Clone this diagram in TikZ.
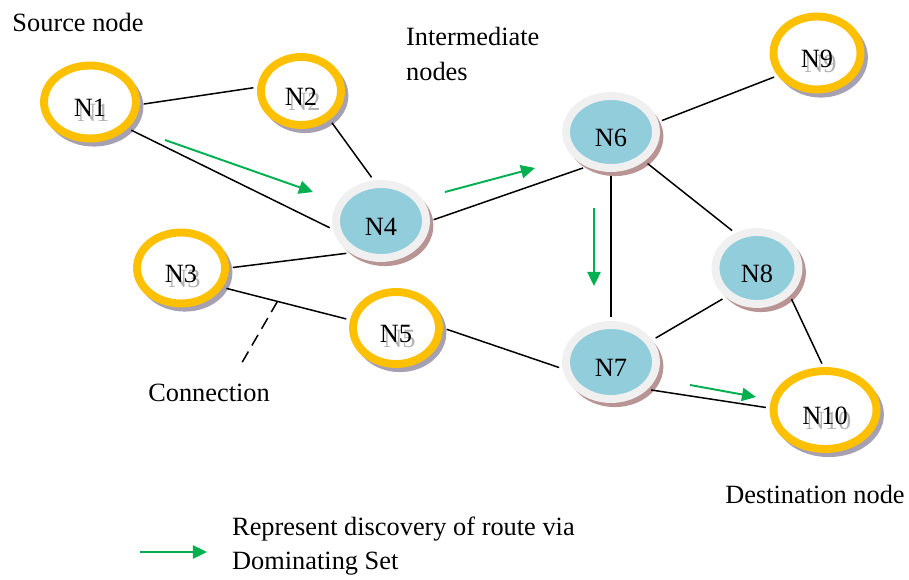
\documentclass[tikz,border=0pt]{standalone}
\usepackage{fontspec}
\setmainfont{Liberation Serif}
\usetikzlibrary{arrows.meta,shapes.geometric,positioning}
\definecolor{ringgold}{RGB}{255,192,0}
\definecolor{shadegrey}{RGB}{165,160,178}
\definecolor{dsblue}{RGB}{146,205,220}
\definecolor{ringpale}{RGB}{240,240,240}
\definecolor{shaderose}{RGB}{185,148,148}
\definecolor{routegreen}{RGB}{0,176,80}
% etichetta con ombra grigia per i nodi semplici
\newcommand{\ghostlbl}[1]{\makebox[0pt][l]{\hspace{2pt}\raisebox{-3pt}{\color{gray!60}#1}}#1}

\begin{document}
\begin{tikzpicture}[x=0.02cm, y=-0.02cm,
  font=\fontsize{15}{19.5}\selectfont,
  plain/.style={ellipse, inner sep=0pt, text height=16.6pt, text depth=0pt, line width=4.5pt, draw=ringgold, fill=white,
    preaction={draw=shadegrey, line width=4pt, transform canvas={shift={(2.2pt,-2.6pt)}}}},
  dom/.style={ellipse, inner sep=0pt, text height=16.6pt, text depth=0pt, line width=4.5pt, draw=ringpale, fill=dsblue,
    preaction={draw=shaderose, line width=4pt, transform canvas={shift={(2.2pt,-2.6pt)}}}},
  link/.style={line width=0.85pt, shorten <=2.2pt, shorten >=2.2pt},
  route/.style={routegreen, line width=1.1pt, -{Triangle[length=8pt,width=7.5pt]}}]
\useasboundingbox (0,0) rectangle (909,580);
% nodi semplici (anello arancio)
\node[plain, minimum width=1.84cm, minimum height=1.46cm] (N1) at (90,102) {\ghostlbl{N1}};
\node[plain, minimum width=1.60cm, minimum height=1.36cm] (N2) at (301,91) {\ghostlbl{N2}};
\node[plain, minimum width=1.76cm, minimum height=1.42cm] (N3) at (181,268) {\ghostlbl{N3}};
\node[plain, minimum width=1.72cm, minimum height=1.44cm] (N5) at (396,328) {\ghostlbl{N5}};
\node[plain, minimum width=1.74cm, minimum height=1.46cm] (N9) at (817,53) {\ghostlbl{N9}};
\node[plain, minimum width=2.06cm, minimum height=1.56cm] (N10) at (825,410) {\ghostlbl{N10}};
% nodi del dominating set
\node[dom, minimum width=1.80cm, minimum height=1.48cm] (N4) at (381,221) {N4};
\node[dom, minimum width=1.80cm, minimum height=1.44cm] (N6) at (611,132) {N6};
\node[dom, minimum width=1.80cm, minimum height=1.48cm] (N7) at (611,362) {N7};
\node[dom, minimum width=1.66cm, minimum height=1.44cm] (N8) at (757,268) {N8};
% collegamenti
\draw[link] (N1.-35) -- (N4.190);
\draw[link] (N1.-3) -- (N2.175);
\draw[link] (N2.-45) -- (N4.100);
\draw[link] (N3.east) -- (N4.226);
\draw[link] (N3.-25) -- (N5.170) coordinate[pos=0.43] (cpt);
\draw[link] (N4.east) -- (N6.235);
\draw[link] (N5.east) -- (N7.188);
\draw[link] (N6.south) -- (N7.north);
\draw[link] (N6.12) -- (N9.210);
\draw[link] (N6.-41) -- (N8.122);
\draw[link] (N7.28) -- (N8.223);
\draw[link] (N7.-37) -- (N10.178);
\draw[link] (N8.-40) -- (N10.92);
% linea di richiamo
\coordinate (cend) at (240,366);
\draw[line width=0.85pt, dash pattern=on 7pt off 4pt] (cpt) -- (cend);
% percorso trovato
\foreach \sx/\sy/\ex/\ey in {165/140/313/192, 445/192/535/168, 594/208/594/286, 690/385/756/397}{
  \draw[route] (\sx,\sy) -- (\ex,\ey);
}
% testi
\node (lsrc) at (78,22) {Source node};
\node[anchor=west, align=left] (lmid) at (400,54) {Intermediate\\nodes};
\node (lconn) at (209,393) {Connection};
\node (ldst) at (815,494) {Destination node};
\coordinate (kstart) at (140,552);
\coordinate (kend) at (207,552);
\draw[route] (kstart) -- (kend);
\node[anchor=west, align=left] (lkey) at (226,546) {Represent discovery of route via\\Dominating Set};
\end{tikzpicture}
\end{document}
